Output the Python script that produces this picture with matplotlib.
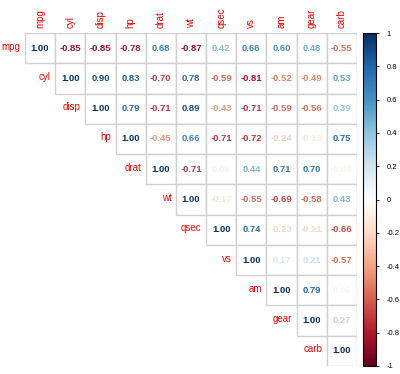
import matplotlib.pyplot as plt
from matplotlib.colors import LinearSegmentedColormap, Normalize
from matplotlib.patches import Rectangle
import matplotlib as mpl

plt.rcParams['font.family'] = ['Liberation Sans', 'DejaVu Sans']

# variable names
names = ["mpg", "cyl", "disp", "hp", "drat", "wt", "qsec", "vs", "am", "gear", "carb"]

# upper triangle of the correlation matrix, row by row (starting at the diagonal)
r_mpg = [1.00, -0.85, -0.85, -0.78, 0.68, -0.87, 0.42, 0.66, 0.60, 0.48, -0.55]
r_cyl = [1.00, 0.90, 0.83, -0.70, 0.78, -0.59, -0.81, -0.52, -0.49, 0.53]
r_disp = [1.00, 0.79, -0.71, 0.89, -0.43, -0.71, -0.59, -0.56, 0.39]
r_hp = [1.00, -0.45, 0.66, -0.71, -0.72, -0.24, -0.13, 0.75]
r_drat = [1.00, -0.71, 0.09, 0.44, 0.71, 0.70, -0.09]
r_wt = [1.00, -0.17, -0.55, -0.69, -0.58, 0.43]
r_qsec = [1.00, 0.74, -0.23, -0.21, -0.66]
r_vs = [1.00, 0.17, 0.21, -0.57]
r_am = [1.00, 0.79, 0.06]
r_gear = [1.00, 0.27]
r_carb = [1.00]
rows = [r_mpg, r_cyl, r_disp, r_hp, r_drat, r_wt, r_qsec, r_vs, r_am, r_gear, r_carb]

cb_ticks = [-1, -0.8, -0.6, -0.4, -0.2, 0, 0.2, 0.4, 0.6, 0.8, 1]
cb_labels = ["-1", "-0.8", "-0.6", "-0.4", "-0.2", "0", "0.2", "0.4", "0.6", "0.8", "1"]

cmap = LinearSegmentedColormap.from_list("col2", [
    "#67001F", "#B2182B", "#D6604D", "#F4A582", "#FDDBC7", "#FFFFFF",
    "#D1E5F0", "#92C5DE", "#4393C3", "#2166AC", "#053061"], N=200)
norm = Normalize(-1, 1)

W, H = 400, 374
fig = plt.figure(figsize=(W / 100, H / 100), dpi=100)
n = len(names)
ax = fig.add_axes([25 / W, (H - 366) / H, 332 / W, 333 / H])
ax.set_xlim(0, n)
ax.set_ylim(n, 0)
ax.axis("off")

for i, row in enumerate(rows):
    for k, v in enumerate(row):
        j = i + k
        ax.add_patch(Rectangle((j, i), 1, 1, facecolor="white", edgecolor="#d0d0d0", lw=1))
        ax.text(j + 0.5, i + 0.5, "%.2f" % v, ha="center", va="center",
                fontsize=6.8, fontweight="bold", color=cmap(norm(v)))
    # row label just left of the diagonal cell
    ax.text(i - 0.15, i + 0.45, names[i], ha="right", va="center", fontsize=7, color="red")
    # column label on top
    ax.text(i + 0.5, -0.15, names[i], ha="center", va="bottom", rotation=90,
            fontsize=7, color="red")

cax = fig.add_axes([363 / W, (H - 366) / H, 13 / W, 333 / H])
cb = mpl.colorbar.ColorbarBase(cax, cmap=cmap, norm=norm, ticks=cb_ticks)
cb.set_ticklabels(cb_labels)
cb.outline.set_linewidth(0.8)
cax.tick_params(labelsize=5.5, length=2.5, width=0.6, pad=5)

fig.savefig("out.png", dpi=100)
